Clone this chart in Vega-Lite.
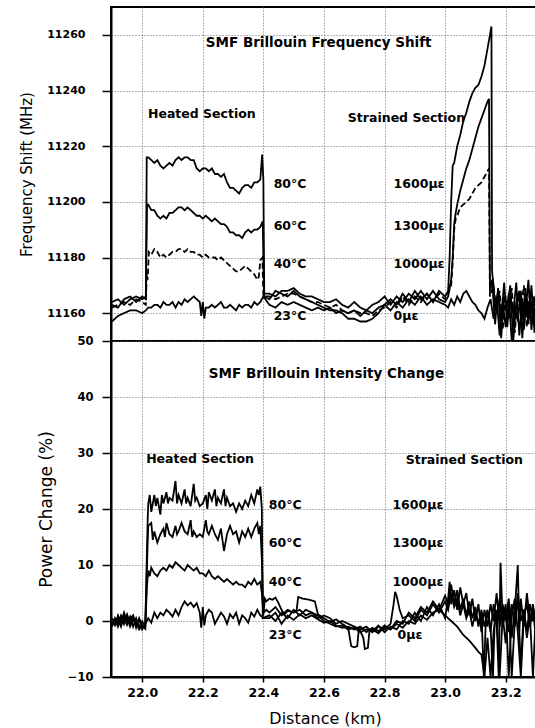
{
"$schema": "https://vega.github.io/schema/vega-lite/v6.json",
"padding": {"left": 18, "top": 6, "right": 0, "bottom": 0},
"spacing": 0,
"bounds": "flush",
"config": {
  "view": {"stroke": "black", "strokeWidth": 2},
  "axis": {"domainColor": "black", "domainWidth": 2, "tickColor": "black", "tickWidth": 1.5, "gridColor": "#666666", "gridOpacity": 1, "gridDash": [1, 2], "gridWidth": 1, "labelFont": "DejaVu Sans", "labelFontWeight": "bold", "labelColor": "black", "titleFont": "DejaVu Sans", "titleFontWeight": "normal", "titleColor": "black"}
},
"datasets": {
"ftitle": [{"x": 22.21, "y": 11256.9, "t": "SMF Brillouin Frequency Shift"}],
"ftext": [
{"x": 22.019, "y": 11231.4, "t": "Heated Section"},
{"x": 22.679, "y": 11230, "t": "Strained Section"},
{"x": 22.434, "y": 11206.3, "t": "80°C"},
{"x": 22.434, "y": 11191.2, "t": "60°C"},
{"x": 22.434, "y": 11177.6, "t": "40°C"},
{"x": 22.434, "y": 11158.9, "t": "23°C"},
{"x": 22.83, "y": 11206.3, "t": "1600με"},
{"x": 22.83, "y": 11191.2, "t": "1300με"},
{"x": 22.83, "y": 11177.6, "t": "1000με"},
{"x": 22.83, "y": 11158.9, "t": "0με"}
],
"ptitle": [{"x": 22.22, "y": 44.1, "t": "SMF Brillouin Intensity Change"}],
"ptext": [
{"x": 22.013, "y": 28.85, "t": "Heated Section"},
{"x": 22.87, "y": 28.7, "t": "Strained Section"},
{"x": 22.418, "y": 20.8, "t": "80°C"},
{"x": 22.418, "y": 13.95, "t": "60°C"},
{"x": 22.418, "y": 7.0, "t": "40°C"},
{"x": 22.418, "y": -2.57, "t": "23°C"},
{"x": 22.826, "y": 20.8, "t": "1600με"},
{"x": 22.826, "y": 13.95, "t": "1300με"},
{"x": 22.826, "y": 7.0, "t": "1000με"},
{"x": 22.843, "y": -2.57, "t": "0με"}
],
"freq": [
{"s":"a","x":21.9,"y":11157},{"s":"a","x":21.92,"y":11159},{"s":"a","x":21.94,"y":11160},{"s":"a","x":21.96,"y":11161},{"s":"a","x":21.98,"y":11161},{"s":"a","x":22.0,"y":11160},{"s":"a","x":22.012,"y":11161},
{"s":"a","x":22.02,"y":11162},{"s":"a","x":22.03,"y":11162},{"s":"a","x":22.04,"y":11163},{"s":"a","x":22.05,"y":11163},{"s":"a","x":22.06,"y":11162},{"s":"a","x":22.07,"y":11164},{"s":"a","x":22.08,"y":11163},{"s":"a","x":22.09,"y":11163},{"s":"a","x":22.1,"y":11164},{"s":"a","x":22.11,"y":11162},{"s":"a","x":22.12,"y":11164},{"s":"a","x":22.13,"y":11163},{"s":"a","x":22.14,"y":11165},{"s":"a","x":22.15,"y":11164},{"s":"a","x":22.16,"y":11165},{"s":"a","x":22.17,"y":11166},{"s":"a","x":22.18,"y":11165},{"s":"a","x":22.19,"y":11164},{"s":"a","x":22.195,"y":11159},{"s":"a","x":22.2,"y":11164},{"s":"a","x":22.205,"y":11158},{"s":"a","x":22.21,"y":11162},{"s":"a","x":22.22,"y":11162},{"s":"a","x":22.23,"y":11163},{"s":"a","x":22.24,"y":11162},{"s":"a","x":22.25,"y":11163},{"s":"a","x":22.26,"y":11164},{"s":"a","x":22.27,"y":11162},{"s":"a","x":22.28,"y":11162},{"s":"a","x":22.29,"y":11163},{"s":"a","x":22.3,"y":11162},{"s":"a","x":22.31,"y":11161},{"s":"a","x":22.32,"y":11163},{"s":"a","x":22.33,"y":11162},{"s":"a","x":22.34,"y":11163},{"s":"a","x":22.35,"y":11163},{"s":"a","x":22.36,"y":11162},{"s":"a","x":22.37,"y":11164},{"s":"a","x":22.38,"y":11163},{"s":"a","x":22.39,"y":11164},{"s":"a","x":22.4,"y":11166},
{"s":"a","x":22.42,"y":11163},{"s":"a","x":22.44,"y":11162},{"s":"a","x":22.46,"y":11164},{"s":"a","x":22.48,"y":11163},{"s":"a","x":22.5,"y":11164},{"s":"a","x":22.52,"y":11163},{"s":"a","x":22.54,"y":11162},{"s":"a","x":22.56,"y":11161},{"s":"a","x":22.58,"y":11162},{"s":"a","x":22.6,"y":11161},{"s":"a","x":22.62,"y":11162},{"s":"a","x":22.64,"y":11160},{"s":"a","x":22.66,"y":11161},{"s":"a","x":22.68,"y":11160},{"s":"a","x":22.7,"y":11161},{"s":"a","x":22.72,"y":11159},{"s":"a","x":22.74,"y":11161},{"s":"a","x":22.76,"y":11160},{"s":"a","x":22.78,"y":11162},{"s":"a","x":22.8,"y":11163},{"s":"a","x":22.82,"y":11161},{"s":"a","x":22.84,"y":11164},{"s":"a","x":22.86,"y":11162},{"s":"a","x":22.88,"y":11165},{"s":"a","x":22.9,"y":11163},{"s":"a","x":22.92,"y":11166},{"s":"a","x":22.94,"y":11163},{"s":"a","x":22.96,"y":11165},{"s":"a","x":22.98,"y":11164},
{"s":"a","x":23.0,"y":11163},{"s":"a","x":23.01,"y":11162},{"s":"a","x":23.02,"y":11165},{"s":"a","x":23.03,"y":11163},{"s":"a","x":23.04,"y":11166},{"s":"a","x":23.05,"y":11164},{"s":"a","x":23.06,"y":11167},{"s":"a","x":23.07,"y":11168},{"s":"a","x":23.08,"y":11166},{"s":"a","x":23.09,"y":11164},{"s":"a","x":23.1,"y":11163},{"s":"a","x":23.11,"y":11161},{"s":"a","x":23.12,"y":11160},{"s":"a","x":23.13,"y":11158},{"s":"a","x":23.14,"y":11162},{"s":"a","x":23.15,"y":11165},
{"s":"a","x":23.16,"y":11158},{"s":"a","x":23.17,"y":11166},{"s":"a","x":23.18,"y":11152},{"s":"a","x":23.19,"y":11164},{"s":"a","x":23.2,"y":11155},{"s":"a","x":23.21,"y":11167},{"s":"a","x":23.22,"y":11150},{"s":"a","x":23.23,"y":11163},{"s":"a","x":23.24,"y":11157},{"s":"a","x":23.25,"y":11168},{"s":"a","x":23.26,"y":11154},{"s":"a","x":23.27,"y":11165},{"s":"a","x":23.28,"y":11158},{"s":"a","x":23.29,"y":11166},{"s":"a","x":23.3,"y":11152},{"s":"a","x":23.31,"y":11163},
{"s":"b","x":21.9,"y":11162},{"s":"b","x":21.92,"y":11163},{"s":"b","x":21.94,"y":11164},{"s":"b","x":21.96,"y":11163},{"s":"b","x":21.98,"y":11165},{"s":"b","x":22.0,"y":11164},{"s":"b","x":22.012,"y":11163},
{"s":"b","x":22.015,"y":11174},{"s":"b","x":22.018,"y":11172},{"s":"b","x":22.022,"y":11182},{"s":"b","x":22.03,"y":11181},{"s":"b","x":22.04,"y":11183},{"s":"b","x":22.05,"y":11182},{"s":"b","x":22.06,"y":11180},{"s":"b","x":22.07,"y":11181},{"s":"b","x":22.08,"y":11180},{"s":"b","x":22.09,"y":11181},{"s":"b","x":22.1,"y":11182},{"s":"b","x":22.11,"y":11182},{"s":"b","x":22.12,"y":11183},{"s":"b","x":22.13,"y":11183},{"s":"b","x":22.14,"y":11182},{"s":"b","x":22.15,"y":11183},{"s":"b","x":22.16,"y":11182},{"s":"b","x":22.17,"y":11182},{"s":"b","x":22.18,"y":11181},{"s":"b","x":22.19,"y":11181},{"s":"b","x":22.2,"y":11180},{"s":"b","x":22.21,"y":11181},{"s":"b","x":22.22,"y":11180},{"s":"b","x":22.23,"y":11180},{"s":"b","x":22.24,"y":11180},{"s":"b","x":22.25,"y":11179},{"s":"b","x":22.26,"y":11180},{"s":"b","x":22.27,"y":11179},{"s":"b","x":22.28,"y":11178},{"s":"b","x":22.29,"y":11177},{"s":"b","x":22.3,"y":11176},{"s":"b","x":22.31,"y":11175},{"s":"b","x":22.32,"y":11175},{"s":"b","x":22.33,"y":11176},{"s":"b","x":22.34,"y":11177},{"s":"b","x":22.35,"y":11176},{"s":"b","x":22.36,"y":11175},{"s":"b","x":22.37,"y":11174},{"s":"b","x":22.38,"y":11172},{"s":"b","x":22.385,"y":11173},{"s":"b","x":22.39,"y":11179},{"s":"b","x":22.397,"y":11180},{"s":"b","x":22.4,"y":11166},
{"s":"b","x":22.42,"y":11166},{"s":"b","x":22.44,"y":11165},{"s":"b","x":22.46,"y":11166},{"s":"b","x":22.48,"y":11167},{"s":"b","x":22.5,"y":11167},{"s":"b","x":22.52,"y":11166},{"s":"b","x":22.54,"y":11165},{"s":"b","x":22.56,"y":11164},{"s":"b","x":22.58,"y":11164},{"s":"b","x":22.6,"y":11163},{"s":"b","x":22.62,"y":11162},{"s":"b","x":22.64,"y":11163},{"s":"b","x":22.66,"y":11161},{"s":"b","x":22.68,"y":11160},{"s":"b","x":22.7,"y":11161},{"s":"b","x":22.72,"y":11160},{"s":"b","x":22.74,"y":11160},{"s":"b","x":22.76,"y":11159},{"s":"b","x":22.78,"y":11161},{"s":"b","x":22.8,"y":11162},{"s":"b","x":22.82,"y":11164},{"s":"b","x":22.84,"y":11162},{"s":"b","x":22.86,"y":11166},{"s":"b","x":22.88,"y":11163},{"s":"b","x":22.9,"y":11166},{"s":"b","x":22.92,"y":11164},{"s":"b","x":22.94,"y":11167},{"s":"b","x":22.96,"y":11164},{"s":"b","x":22.98,"y":11167},
{"s":"b","x":23.0,"y":11165},{"s":"b","x":23.01,"y":11167},{"s":"b","x":23.02,"y":11170},{"s":"b","x":23.025,"y":11178},{"s":"b","x":23.03,"y":11190},{"s":"b","x":23.035,"y":11194},{"s":"b","x":23.04,"y":11195},{"s":"b","x":23.05,"y":11198},{"s":"b","x":23.06,"y":11199},{"s":"b","x":23.07,"y":11200},{"s":"b","x":23.08,"y":11201},{"s":"b","x":23.09,"y":11203},{"s":"b","x":23.1,"y":11205},{"s":"b","x":23.11,"y":11206},{"s":"b","x":23.12,"y":11207},{"s":"b","x":23.13,"y":11209},{"s":"b","x":23.14,"y":11211},{"s":"b","x":23.145,"y":11212},{"s":"b","x":23.148,"y":11166},
{"s":"b","x":23.16,"y":11170},{"s":"b","x":23.17,"y":11160},{"s":"b","x":23.18,"y":11168},{"s":"b","x":23.19,"y":11154},{"s":"b","x":23.2,"y":11166},{"s":"b","x":23.21,"y":11158},{"s":"b","x":23.22,"y":11169},{"s":"b","x":23.23,"y":11153},{"s":"b","x":23.24,"y":11167},{"s":"b","x":23.25,"y":11160},{"s":"b","x":23.26,"y":11170},{"s":"b","x":23.27,"y":11155},{"s":"b","x":23.28,"y":11168},{"s":"b","x":23.29,"y":11157},{"s":"b","x":23.3,"y":11167},{"s":"b","x":23.31,"y":11160},
{"s":"c","x":21.9,"y":11163},{"s":"c","x":21.92,"y":11162},{"s":"c","x":21.94,"y":11165},{"s":"c","x":21.96,"y":11166},{"s":"c","x":21.98,"y":11164},{"s":"c","x":22.0,"y":11166},{"s":"c","x":22.012,"y":11165},
{"s":"c","x":22.016,"y":11199},{"s":"c","x":22.02,"y":11199},{"s":"c","x":22.03,"y":11197},{"s":"c","x":22.04,"y":11197},{"s":"c","x":22.05,"y":11195},{"s":"c","x":22.06,"y":11194},{"s":"c","x":22.07,"y":11195},{"s":"c","x":22.08,"y":11194},{"s":"c","x":22.09,"y":11196},{"s":"c","x":22.1,"y":11196},{"s":"c","x":22.11,"y":11197},{"s":"c","x":22.12,"y":11198},{"s":"c","x":22.13,"y":11198},{"s":"c","x":22.14,"y":11197},{"s":"c","x":22.15,"y":11198},{"s":"c","x":22.16,"y":11197},{"s":"c","x":22.17,"y":11196},{"s":"c","x":22.18,"y":11195},{"s":"c","x":22.19,"y":11195},{"s":"c","x":22.2,"y":11194},{"s":"c","x":22.21,"y":11195},{"s":"c","x":22.22,"y":11194},{"s":"c","x":22.23,"y":11193},{"s":"c","x":22.24,"y":11194},{"s":"c","x":22.25,"y":11193},{"s":"c","x":22.26,"y":11192},{"s":"c","x":22.27,"y":11192},{"s":"c","x":22.28,"y":11191},{"s":"c","x":22.29,"y":11189},{"s":"c","x":22.3,"y":11189},{"s":"c","x":22.31,"y":11188},{"s":"c","x":22.32,"y":11188},{"s":"c","x":22.33,"y":11187},{"s":"c","x":22.34,"y":11189},{"s":"c","x":22.35,"y":11190},{"s":"c","x":22.36,"y":11189},{"s":"c","x":22.37,"y":11190},{"s":"c","x":22.38,"y":11190},{"s":"c","x":22.39,"y":11191},{"s":"c","x":22.398,"y":11193},{"s":"c","x":22.402,"y":11167},
{"s":"c","x":22.42,"y":11167},{"s":"c","x":22.44,"y":11166},{"s":"c","x":22.46,"y":11168},{"s":"c","x":22.48,"y":11168},{"s":"c","x":22.5,"y":11169},{"s":"c","x":22.52,"y":11167},{"s":"c","x":22.54,"y":11166},{"s":"c","x":22.56,"y":11166},{"s":"c","x":22.58,"y":11165},{"s":"c","x":22.6,"y":11164},{"s":"c","x":22.62,"y":11164},{"s":"c","x":22.64,"y":11165},{"s":"c","x":22.66,"y":11163},{"s":"c","x":22.68,"y":11162},{"s":"c","x":22.7,"y":11164},{"s":"c","x":22.72,"y":11162},{"s":"c","x":22.74,"y":11161},{"s":"c","x":22.76,"y":11163},{"s":"c","x":22.78,"y":11164},{"s":"c","x":22.8,"y":11166},{"s":"c","x":22.82,"y":11163},{"s":"c","x":22.84,"y":11166},{"s":"c","x":22.86,"y":11164},{"s":"c","x":22.88,"y":11167},{"s":"c","x":22.9,"y":11165},{"s":"c","x":22.92,"y":11168},{"s":"c","x":22.94,"y":11165},{"s":"c","x":22.96,"y":11168},{"s":"c","x":22.98,"y":11165},
{"s":"c","x":23.0,"y":11164},{"s":"c","x":23.01,"y":11166},{"s":"c","x":23.02,"y":11172},{"s":"c","x":23.025,"y":11180},{"s":"c","x":23.03,"y":11192},{"s":"c","x":23.035,"y":11196},{"s":"c","x":23.04,"y":11199},{"s":"c","x":23.05,"y":11204},{"s":"c","x":23.06,"y":11208},{"s":"c","x":23.07,"y":11212},{"s":"c","x":23.08,"y":11215},{"s":"c","x":23.09,"y":11219},{"s":"c","x":23.1,"y":11223},{"s":"c","x":23.11,"y":11227},{"s":"c","x":23.12,"y":11230},{"s":"c","x":23.13,"y":11233},{"s":"c","x":23.14,"y":11236},{"s":"c","x":23.145,"y":11237},{"s":"c","x":23.148,"y":11168},
{"s":"c","x":23.155,"y":11172},{"s":"c","x":23.165,"y":11156},{"s":"c","x":23.175,"y":11169},{"s":"c","x":23.185,"y":11158},{"s":"c","x":23.195,"y":11171},{"s":"c","x":23.205,"y":11155},{"s":"c","x":23.215,"y":11166},{"s":"c","x":23.225,"y":11160},{"s":"c","x":23.235,"y":11171},{"s":"c","x":23.245,"y":11152},{"s":"c","x":23.255,"y":11165},{"s":"c","x":23.265,"y":11159},{"s":"c","x":23.275,"y":11172},{"s":"c","x":23.285,"y":11154},{"s":"c","x":23.295,"y":11166},{"s":"c","x":23.305,"y":11158},
{"s":"d","x":21.9,"y":11164},{"s":"d","x":21.92,"y":11165},{"s":"d","x":21.94,"y":11163},{"s":"d","x":21.96,"y":11165},{"s":"d","x":21.98,"y":11166},{"s":"d","x":22.0,"y":11165},{"s":"d","x":22.012,"y":11166},
{"s":"d","x":22.015,"y":11216},{"s":"d","x":22.02,"y":11216},{"s":"d","x":22.03,"y":11215},{"s":"d","x":22.04,"y":11214},{"s":"d","x":22.05,"y":11215},{"s":"d","x":22.06,"y":11213},{"s":"d","x":22.07,"y":11212},{"s":"d","x":22.08,"y":11213},{"s":"d","x":22.09,"y":11214},{"s":"d","x":22.1,"y":11213},{"s":"d","x":22.11,"y":11215},{"s":"d","x":22.12,"y":11216},{"s":"d","x":22.13,"y":11215},{"s":"d","x":22.14,"y":11216},{"s":"d","x":22.15,"y":11216},{"s":"d","x":22.16,"y":11215},{"s":"d","x":22.17,"y":11215},{"s":"d","x":22.18,"y":11212},{"s":"d","x":22.19,"y":11211},{"s":"d","x":22.2,"y":11212},{"s":"d","x":22.21,"y":11212},{"s":"d","x":22.22,"y":11211},{"s":"d","x":22.23,"y":11212},{"s":"d","x":22.24,"y":11210},{"s":"d","x":22.25,"y":11210},{"s":"d","x":22.26,"y":11209},{"s":"d","x":22.27,"y":11210},{"s":"d","x":22.28,"y":11207},{"s":"d","x":22.29,"y":11205},{"s":"d","x":22.3,"y":11205},{"s":"d","x":22.31,"y":11204},{"s":"d","x":22.32,"y":11203},{"s":"d","x":22.33,"y":11205},{"s":"d","x":22.34,"y":11206},{"s":"d","x":22.35,"y":11206},{"s":"d","x":22.36,"y":11205},{"s":"d","x":22.37,"y":11207},{"s":"d","x":22.38,"y":11207},{"s":"d","x":22.39,"y":11208},{"s":"d","x":22.396,"y":11217},{"s":"d","x":22.4,"y":11208},{"s":"d","x":22.403,"y":11166},
{"s":"d","x":22.42,"y":11165},{"s":"d","x":22.44,"y":11168},{"s":"d","x":22.46,"y":11167},{"s":"d","x":22.48,"y":11166},{"s":"d","x":22.5,"y":11168},{"s":"d","x":22.52,"y":11166},{"s":"d","x":22.54,"y":11165},{"s":"d","x":22.56,"y":11164},{"s":"d","x":22.58,"y":11163},{"s":"d","x":22.6,"y":11162},{"s":"d","x":22.62,"y":11161},{"s":"d","x":22.64,"y":11161},{"s":"d","x":22.66,"y":11160},{"s":"d","x":22.68,"y":11158},{"s":"d","x":22.7,"y":11158},{"s":"d","x":22.72,"y":11157},{"s":"d","x":22.74,"y":11157},{"s":"d","x":22.76,"y":11158},{"s":"d","x":22.78,"y":11160},{"s":"d","x":22.8,"y":11163},{"s":"d","x":22.82,"y":11165},{"s":"d","x":22.84,"y":11163},{"s":"d","x":22.86,"y":11167},{"s":"d","x":22.88,"y":11164},{"s":"d","x":22.9,"y":11168},{"s":"d","x":22.92,"y":11165},{"s":"d","x":22.94,"y":11167},{"s":"d","x":22.96,"y":11164},{"s":"d","x":22.98,"y":11168},
{"s":"d","x":23.0,"y":11166},{"s":"d","x":23.01,"y":11168},{"s":"d","x":23.015,"y":11180},{"s":"d","x":23.02,"y":11200},{"s":"d","x":23.025,"y":11213},{"s":"d","x":23.03,"y":11214},{"s":"d","x":23.04,"y":11220},{"s":"d","x":23.05,"y":11224},{"s":"d","x":23.06,"y":11229},{"s":"d","x":23.07,"y":11232},{"s":"d","x":23.08,"y":11236},{"s":"d","x":23.09,"y":11239},{"s":"d","x":23.1,"y":11241},{"s":"d","x":23.11,"y":11242},{"s":"d","x":23.12,"y":11245},{"s":"d","x":23.13,"y":11249},{"s":"d","x":23.14,"y":11255},{"s":"d","x":23.153,"y":11263},{"s":"d","x":23.155,"y":11175},
{"s":"d","x":23.16,"y":11170},{"s":"d","x":23.165,"y":11162},{"s":"d","x":23.175,"y":11168},{"s":"d","x":23.185,"y":11151},{"s":"d","x":23.195,"y":11166},{"s":"d","x":23.205,"y":11162},{"s":"d","x":23.215,"y":11170},{"s":"d","x":23.225,"y":11150},{"s":"d","x":23.235,"y":11164},{"s":"d","x":23.245,"y":11168},{"s":"d","x":23.255,"y":11151},{"s":"d","x":23.265,"y":11169},{"s":"d","x":23.275,"y":11156},{"s":"d","x":23.285,"y":11170},{"s":"d","x":23.295,"y":11153},{"s":"d","x":23.305,"y":11167}
],
"pow": [
{"s":"a","x":21.9,"y":-1},{"s":"a","x":21.91,"y":0.5},{"s":"a","x":21.92,"y":-0.5},{"s":"a","x":21.93,"y":1},{"s":"a","x":21.94,"y":0},{"s":"a","x":21.95,"y":1.2},{"s":"a","x":21.96,"y":-0.5},{"s":"a","x":21.97,"y":0.8},{"s":"a","x":21.98,"y":-0.8},{"s":"a","x":21.99,"y":0.3},{"s":"a","x":22.0,"y":-1.5},{"s":"a","x":22.01,"y":-0.5},
{"s":"a","x":22.02,"y":0.5},{"s":"a","x":22.03,"y":-0.3},{"s":"a","x":22.04,"y":1.5},{"s":"a","x":22.05,"y":0.5},{"s":"a","x":22.06,"y":1.5},{"s":"a","x":22.07,"y":1},{"s":"a","x":22.08,"y":2},{"s":"a","x":22.09,"y":1.5},{"s":"a","x":22.1,"y":0.8},{"s":"a","x":22.11,"y":2},{"s":"a","x":22.12,"y":1},{"s":"a","x":22.13,"y":2.5},{"s":"a","x":22.14,"y":3.5},{"s":"a","x":22.15,"y":2.8},{"s":"a","x":22.16,"y":3.3},{"s":"a","x":22.17,"y":2.5},{"s":"a","x":22.18,"y":3.2},{"s":"a","x":22.19,"y":1.5},{"s":"a","x":22.195,"y":-1.2},{"s":"a","x":22.2,"y":2.5},{"s":"a","x":22.205,"y":-0.8},{"s":"a","x":22.21,"y":1},{"s":"a","x":22.22,"y":2},{"s":"a","x":22.23,"y":1.5},{"s":"a","x":22.24,"y":-0.5},{"s":"a","x":22.25,"y":0.5},{"s":"a","x":22.26,"y":1.5},{"s":"a","x":22.27,"y":0.8},{"s":"a","x":22.28,"y":-0.5},{"s":"a","x":22.29,"y":1.2},{"s":"a","x":22.3,"y":0.5},{"s":"a","x":22.31,"y":1.5},{"s":"a","x":22.32,"y":-0.5},{"s":"a","x":22.33,"y":1},{"s":"a","x":22.34,"y":0.5},{"s":"a","x":22.35,"y":-0.3},{"s":"a","x":22.36,"y":1.5},{"s":"a","x":22.37,"y":0.8},{"s":"a","x":22.38,"y":2},{"s":"a","x":22.39,"y":1},{"s":"a","x":22.4,"y":0.5},
{"s":"a","x":22.42,"y":0.5},{"s":"a","x":22.44,"y":1.5},{"s":"a","x":22.46,"y":-0.5},{"s":"a","x":22.48,"y":1},{"s":"a","x":22.5,"y":0.2},{"s":"a","x":22.52,"y":1.2},{"s":"a","x":22.54,"y":0.5},{"s":"a","x":22.56,"y":1},{"s":"a","x":22.58,"y":0.3},{"s":"a","x":22.6,"y":-0.3},{"s":"a","x":22.62,"y":0},{"s":"a","x":22.64,"y":-0.8},{"s":"a","x":22.66,"y":-1.2},{"s":"a","x":22.68,"y":-1},{"s":"a","x":22.7,"y":-1.5},{"s":"a","x":22.72,"y":-1},{"s":"a","x":22.74,"y":-2},{"s":"a","x":22.76,"y":-1.2},{"s":"a","x":22.78,"y":-1.8},{"s":"a","x":22.8,"y":-0.8},{"s":"a","x":22.82,"y":-1.5},{"s":"a","x":22.84,"y":-0.5},{"s":"a","x":22.86,"y":-1.2},{"s":"a","x":22.88,"y":0},{"s":"a","x":22.9,"y":-0.5},{"s":"a","x":22.92,"y":1},{"s":"a","x":22.94,"y":0.2},{"s":"a","x":22.96,"y":1.5},{"s":"a","x":22.98,"y":2},{"s":"a","x":23.0,"y":1},{"s":"a","x":23.02,"y":0},{"s":"a","x":23.04,"y":-1},{"s":"a","x":23.06,"y":-2.5},{"s":"a","x":23.08,"y":-3.5},{"s":"a","x":23.1,"y":-4.8},{"s":"a","x":23.11,"y":-5.5},{"s":"a","x":23.12,"y":-6},{"s":"a","x":23.13,"y":-10},{"s":"a","x":23.14,"y":-3},{"s":"a","x":23.15,"y":-10},{"s":"a","x":23.16,"y":-2},{"s":"a","x":23.17,"y":2},{"s":"a","x":23.18,"y":-10},{"s":"a","x":23.19,"y":1},{"s":"a","x":23.2,"y":-4},{"s":"a","x":23.21,"y":3},{"s":"a","x":23.22,"y":-10},{"s":"a","x":23.23,"y":0},{"s":"a","x":23.24,"y":4},{"s":"a","x":23.25,"y":-8},{"s":"a","x":23.26,"y":2},{"s":"a","x":23.27,"y":-3},{"s":"a","x":23.28,"y":1},{"s":"a","x":23.29,"y":-10},{"s":"a","x":23.3,"y":2},{"s":"a","x":23.31,"y":-1},
{"s":"b","x":21.9,"y":0},{"s":"b","x":21.91,"y":-0.8},{"s":"b","x":21.92,"y":1},{"s":"b","x":21.93,"y":-0.3},{"s":"b","x":21.94,"y":1.5},{"s":"b","x":21.95,"y":-0.2},{"s":"b","x":21.96,"y":0.8},{"s":"b","x":21.97,"y":-1},{"s":"b","x":21.98,"y":0.5},{"s":"b","x":21.99,"y":-1.2},{"s":"b","x":22.0,"y":0},{"s":"b","x":22.01,"y":-1},
{"s":"b","x":22.016,"y":6.5},{"s":"b","x":22.02,"y":9},{"s":"b","x":22.025,"y":8},{"s":"b","x":22.03,"y":9.5},{"s":"b","x":22.04,"y":8.5},{"s":"b","x":22.05,"y":8},{"s":"b","x":22.06,"y":9},{"s":"b","x":22.07,"y":9.5},{"s":"b","x":22.08,"y":9},{"s":"b","x":22.09,"y":10},{"s":"b","x":22.1,"y":9.5},{"s":"b","x":22.11,"y":10.5},{"s":"b","x":22.12,"y":10},{"s":"b","x":22.13,"y":9.5},{"s":"b","x":22.14,"y":9},{"s":"b","x":22.15,"y":10},{"s":"b","x":22.16,"y":9.5},{"s":"b","x":22.17,"y":9},{"s":"b","x":22.18,"y":9.5},{"s":"b","x":22.19,"y":8.5},{"s":"b","x":22.2,"y":8.5},{"s":"b","x":22.21,"y":8},{"s":"b","x":22.22,"y":9},{"s":"b","x":22.23,"y":8},{"s":"b","x":22.24,"y":7.5},{"s":"b","x":22.25,"y":8},{"s":"b","x":22.26,"y":7.5},{"s":"b","x":22.27,"y":7},{"s":"b","x":22.28,"y":7.5},{"s":"b","x":22.29,"y":7},{"s":"b","x":22.3,"y":6.5},{"s":"b","x":22.31,"y":7},{"s":"b","x":22.32,"y":6.5},{"s":"b","x":22.33,"y":6.5},{"s":"b","x":22.34,"y":6},{"s":"b","x":22.35,"y":7},{"s":"b","x":22.36,"y":6.5},{"s":"b","x":22.37,"y":7.5},{"s":"b","x":22.38,"y":6.5},{"s":"b","x":22.39,"y":7},{"s":"b","x":22.395,"y":5},{"s":"b","x":22.4,"y":1.5},
{"s":"b","x":22.41,"y":2},{"s":"b","x":22.42,"y":1.5},{"s":"b","x":22.44,"y":2.5},{"s":"b","x":22.46,"y":1},{"s":"b","x":22.48,"y":2},{"s":"b","x":22.5,"y":1.5},{"s":"b","x":22.52,"y":2},{"s":"b","x":22.54,"y":1},{"s":"b","x":22.56,"y":1.5},{"s":"b","x":22.58,"y":0.5},{"s":"b","x":22.6,"y":1},{"s":"b","x":22.62,"y":0.5},{"s":"b","x":22.64,"y":-0.5},{"s":"b","x":22.66,"y":0},{"s":"b","x":22.68,"y":-0.5},{"s":"b","x":22.7,"y":-1},{"s":"b","x":22.72,"y":-1.5},{"s":"b","x":22.74,"y":-1},{"s":"b","x":22.76,"y":-2},{"s":"b","x":22.78,"y":-1},{"s":"b","x":22.8,"y":-1.5},{"s":"b","x":22.82,"y":-0.5},{"s":"b","x":22.83,"y":3},{"s":"b","x":22.835,"y":5.2},{"s":"b","x":22.84,"y":4.5},{"s":"b","x":22.85,"y":2},{"s":"b","x":22.86,"y":0.5},{"s":"b","x":22.88,"y":1},{"s":"b","x":22.9,"y":0},{"s":"b","x":22.92,"y":2},{"s":"b","x":22.94,"y":1},{"s":"b","x":22.96,"y":3},{"s":"b","x":22.98,"y":1.5},{"s":"b","x":23.0,"y":3.5},{"s":"b","x":23.01,"y":2},{"s":"b","x":23.02,"y":5},{"s":"b","x":23.03,"y":2.5},{"s":"b","x":23.04,"y":4},{"s":"b","x":23.05,"y":1},{"s":"b","x":23.06,"y":3},{"s":"b","x":23.07,"y":0.5},{"s":"b","x":23.08,"y":2},{"s":"b","x":23.09,"y":-1},{"s":"b","x":23.1,"y":1.5},{"s":"b","x":23.11,"y":-0.5},{"s":"b","x":23.12,"y":2},{"s":"b","x":23.13,"y":-1},{"s":"b","x":23.14,"y":1.5},{"s":"b","x":23.15,"y":-2},{"s":"b","x":23.16,"y":3},{"s":"b","x":23.17,"y":0},{"s":"b","x":23.18,"y":4},{"s":"b","x":23.19,"y":-1},{"s":"b","x":23.2,"y":2},{"s":"b","x":23.21,"y":-2},{"s":"b","x":23.22,"y":3},{"s":"b","x":23.23,"y":-1},{"s":"b","x":23.24,"y":5},{"s":"b","x":23.25,"y":0},{"s":"b","x":23.26,"y":2},{"s":"b","x":23.27,"y":-2},{"s":"b","x":23.28,"y":3},{"s":"b","x":23.29,"y":0},{"s":"b","x":23.3,"y":2.5},{"s":"b","x":23.31,"y":-0.5},
{"s":"c","x":21.9,"y":-0.5},{"s":"c","x":21.91,"y":0.3},{"s":"c","x":21.92,"y":-1},{"s":"c","x":21.93,"y":0.6},{"s":"c","x":21.94,"y":-0.6},{"s":"c","x":21.95,"y":0.7},{"s":"c","x":21.96,"y":-1},{"s":"c","x":21.97,"y":0.2},{"s":"c","x":21.98,"y":-0.3},{"s":"c","x":21.99,"y":-1.5},{"s":"c","x":22.0,"y":-0.8},{"s":"c","x":22.01,"y":-1.4},
{"s":"c","x":22.018,"y":14},{"s":"c","x":22.02,"y":17},{"s":"c","x":22.03,"y":17.5},{"s":"c","x":22.035,"y":14.5},{"s":"c","x":22.04,"y":16},{"s":"c","x":22.05,"y":14},{"s":"c","x":22.06,"y":15.5},{"s":"c","x":22.07,"y":16.5},{"s":"c","x":22.075,"y":15},{"s":"c","x":22.08,"y":17.5},{"s":"c","x":22.09,"y":15.5},{"s":"c","x":22.1,"y":15},{"s":"c","x":22.11,"y":17},{"s":"c","x":22.115,"y":15.5},{"s":"c","x":22.12,"y":16},{"s":"c","x":22.13,"y":17.5},{"s":"c","x":22.14,"y":16},{"s":"c","x":22.15,"y":15.5},{"s":"c","x":22.16,"y":18},{"s":"c","x":22.165,"y":15},{"s":"c","x":22.17,"y":16},{"s":"c","x":22.18,"y":15},{"s":"c","x":22.19,"y":15.5},{"s":"c","x":22.2,"y":15},{"s":"c","x":22.21,"y":18},{"s":"c","x":22.215,"y":16},{"s":"c","x":22.22,"y":15.5},{"s":"c","x":22.23,"y":17},{"s":"c","x":22.24,"y":15.5},{"s":"c","x":22.25,"y":14.5},{"s":"c","x":22.26,"y":16.5},{"s":"c","x":22.27,"y":12.5},{"s":"c","x":22.275,"y":14},{"s":"c","x":22.28,"y":15.5},{"s":"c","x":22.29,"y":17},{"s":"c","x":22.3,"y":15.5},{"s":"c","x":22.31,"y":16},{"s":"c","x":22.32,"y":14},{"s":"c","x":22.33,"y":16},{"s":"c","x":22.34,"y":15},{"s":"c","x":22.35,"y":16.5},{"s":"c","x":22.36,"y":15},{"s":"c","x":22.37,"y":16.5},{"s":"c","x":22.38,"y":17.5},{"s":"c","x":22.385,"y":15.5},{"s":"c","x":22.39,"y":17},{"s":"c","x":22.395,"y":11},{"s":"c","x":22.4,"y":1},
{"s":"c","x":22.405,"y":4},{"s":"c","x":22.41,"y":3.5},{"s":"c","x":22.42,"y":4},{"s":"c","x":22.43,"y":3.8},{"s":"c","x":22.44,"y":4.2},{"s":"c","x":22.45,"y":3.2},{"s":"c","x":22.46,"y":2},{"s":"c","x":22.47,"y":1.2},{"s":"c","x":22.48,"y":1.8},{"s":"c","x":22.5,"y":1.5},{"s":"c","x":22.51,"y":2},{"s":"c","x":22.515,"y":4.3},{"s":"c","x":22.53,"y":4},{"s":"c","x":22.55,"y":3.8},{"s":"c","x":22.57,"y":3.5},{"s":"c","x":22.58,"y":1.2},{"s":"c","x":22.6,"y":0.5},{"s":"c","x":22.62,"y":-0.2},{"s":"c","x":22.64,"y":0.3},{"s":"c","x":22.66,"y":-0.5},{"s":"c","x":22.68,"y":-1.2},{"s":"c","x":22.69,"y":-4.5},{"s":"c","x":22.7,"y":-4.7},{"s":"c","x":22.71,"y":-4.5},{"s":"c","x":22.715,"y":-1.5},{"s":"c","x":22.72,"y":-1.8},{"s":"c","x":22.73,"y":-3},{"s":"c","x":22.735,"y":-5},{"s":"c","x":22.745,"y":-4.8},{"s":"c","x":22.75,"y":-2},{"s":"c","x":22.76,"y":-1.5},{"s":"c","x":22.78,"y":-2.2},{"s":"c","x":22.8,"y":-1},{"s":"c","x":22.82,"y":-1.5},{"s":"c","x":22.84,"y":0},{"s":"c","x":22.86,"y":-0.5},{"s":"c","x":22.88,"y":1.5},{"s":"c","x":22.9,"y":0.5},{"s":"c","x":22.92,"y":2.5},{"s":"c","x":22.94,"y":1.5},{"s":"c","x":22.96,"y":3.5},{"s":"c","x":22.98,"y":2},{"s":"c","x":23.0,"y":4.5},{"s":"c","x":23.01,"y":3},{"s":"c","x":23.02,"y":6.5},{"s":"c","x":23.03,"y":3},{"s":"c","x":23.04,"y":5.5},{"s":"c","x":23.05,"y":2},{"s":"c","x":23.06,"y":4},{"s":"c","x":23.07,"y":1},{"s":"c","x":23.08,"y":3.5},{"s":"c","x":23.09,"y":0.5},{"s":"c","x":23.1,"y":2.5},{"s":"c","x":23.11,"y":-1},{"s":"c","x":23.12,"y":1.5},{"s":"c","x":23.128,"y":-10},{"s":"c","x":23.135,"y":1},{"s":"c","x":23.14,"y":2},{"s":"c","x":23.15,"y":-1},{"s":"c","x":23.158,"y":-10},{"s":"c","x":23.165,"y":2},{"s":"c","x":23.17,"y":0},{"s":"c","x":23.177,"y":-10},{"s":"c","x":23.183,"y":10.4},{"s":"c","x":23.19,"y":0},{"s":"c","x":23.2,"y":3},{"s":"c","x":23.21,"y":-10},{"s":"c","x":23.22,"y":1},{"s":"c","x":23.23,"y":4},{"s":"c","x":23.24,"y":-2},{"s":"c","x":23.25,"y":-10},{"s":"c","x":23.26,"y":1},{"s":"c","x":23.27,"y":3},{"s":"c","x":23.28,"y":-1},{"s":"c","x":23.29,"y":2},{"s":"c","x":23.3,"y":-3},{"s":"c","x":23.31,"y":1},
{"s":"d","x":21.9,"y":0.5},{"s":"d","x":21.91,"y":-0.2},{"s":"d","x":21.92,"y":0.4},{"s":"d","x":21.93,"y":-1},{"s":"d","x":21.94,"y":0.9},{"s":"d","x":21.95,"y":-0.7},{"s":"d","x":21.96,"y":0.3},{"s":"d","x":21.97,"y":1},{"s":"d","x":21.98,"y":-1.2},{"s":"d","x":21.99,"y":0.5},{"s":"d","x":22.0,"y":-1},{"s":"d","x":22.01,"y":-1.2},
{"s":"d","x":22.018,"y":18},{"s":"d","x":22.02,"y":21},{"s":"d","x":22.025,"y":22.5},{"s":"d","x":22.03,"y":19.5},{"s":"d","x":22.04,"y":22.5},{"s":"d","x":22.045,"y":20.5},{"s":"d","x":22.05,"y":22},{"s":"d","x":22.06,"y":19},{"s":"d","x":22.065,"y":22.5},{"s":"d","x":22.07,"y":21},{"s":"d","x":22.08,"y":23},{"s":"d","x":22.085,"y":21},{"s":"d","x":22.09,"y":22},{"s":"d","x":22.1,"y":21.5},{"s":"d","x":22.11,"y":25},{"s":"d","x":22.115,"y":21},{"s":"d","x":22.12,"y":22.5},{"s":"d","x":22.13,"y":21},{"s":"d","x":22.14,"y":23.5},{"s":"d","x":22.145,"y":21},{"s":"d","x":22.15,"y":22},{"s":"d","x":22.16,"y":20.5},{"s":"d","x":22.17,"y":24.5},{"s":"d","x":22.175,"y":21.5},{"s":"d","x":22.18,"y":22},{"s":"d","x":22.19,"y":20.5},{"s":"d","x":22.2,"y":21},{"s":"d","x":22.21,"y":22.5},{"s":"d","x":22.215,"y":20},{"s":"d","x":22.22,"y":23},{"s":"d","x":22.23,"y":21.5},{"s":"d","x":22.24,"y":23.5},{"s":"d","x":22.245,"y":20.5},{"s":"d","x":22.25,"y":22},{"s":"d","x":22.26,"y":21},{"s":"d","x":22.27,"y":23.5},{"s":"d","x":22.275,"y":20.5},{"s":"d","x":22.28,"y":22},{"s":"d","x":22.29,"y":20.5},{"s":"d","x":22.3,"y":21},{"s":"d","x":22.31,"y":19.5},{"s":"d","x":22.32,"y":21},{"s":"d","x":22.33,"y":20},{"s":"d","x":22.34,"y":21.5},{"s":"d","x":22.35,"y":20.5},{"s":"d","x":22.36,"y":22.5},{"s":"d","x":22.37,"y":21},{"s":"d","x":22.38,"y":23.5},{"s":"d","x":22.385,"y":22.5},{"s":"d","x":22.39,"y":24},{"s":"d","x":22.395,"y":20},{"s":"d","x":22.398,"y":0.5},
{"s":"d","x":22.42,"y":1},{"s":"d","x":22.44,"y":0},{"s":"d","x":22.46,"y":1.5},{"s":"d","x":22.48,"y":0.5},{"s":"d","x":22.5,"y":2},{"s":"d","x":22.52,"y":1},{"s":"d","x":22.54,"y":2},{"s":"d","x":22.56,"y":1.5},{"s":"d","x":22.58,"y":1},{"s":"d","x":22.6,"y":0},{"s":"d","x":22.62,"y":-0.5},{"s":"d","x":22.64,"y":-1},{"s":"d","x":22.66,"y":-0.8},{"s":"d","x":22.68,"y":-1.5},{"s":"d","x":22.7,"y":-1.2},{"s":"d","x":22.72,"y":-2},{"s":"d","x":22.74,"y":-1.5},{"s":"d","x":22.76,"y":-1.8},{"s":"d","x":22.78,"y":-0.8},{"s":"d","x":22.8,"y":-2},{"s":"d","x":22.82,"y":-1},{"s":"d","x":22.84,"y":-1.5},{"s":"d","x":22.86,"y":0},{"s":"d","x":22.88,"y":-0.5},{"s":"d","x":22.9,"y":1.5},{"s":"d","x":22.92,"y":0},{"s":"d","x":22.94,"y":2.5},{"s":"d","x":22.96,"y":1},{"s":"d","x":22.98,"y":3},{"s":"d","x":23.0,"y":0.5},{"s":"d","x":23.01,"y":4},{"s":"d","x":23.015,"y":7},{"s":"d","x":23.02,"y":3},{"s":"d","x":23.03,"y":5.5},{"s":"d","x":23.04,"y":2},{"s":"d","x":23.05,"y":6},{"s":"d","x":23.06,"y":3},{"s":"d","x":23.07,"y":5},{"s":"d","x":23.08,"y":1},{"s":"d","x":23.09,"y":4},{"s":"d","x":23.1,"y":0},{"s":"d","x":23.11,"y":3},{"s":"d","x":23.12,"y":-2},{"s":"d","x":23.13,"y":2},{"s":"d","x":23.14,"y":-1},{"s":"d","x":23.15,"y":3},{"s":"d","x":23.16,"y":0},{"s":"d","x":23.17,"y":5},{"s":"d","x":23.18,"y":-1},{"s":"d","x":23.19,"y":3},{"s":"d","x":23.2,"y":0},{"s":"d","x":23.21,"y":4},{"s":"d","x":23.22,"y":-3},{"s":"d","x":23.23,"y":2},{"s":"d","x":23.24,"y":10},{"s":"d","x":23.245,"y":-2},{"s":"d","x":23.25,"y":4},{"s":"d","x":23.26,"y":-1},{"s":"d","x":23.27,"y":5},{"s":"d","x":23.28,"y":0},{"s":"d","x":23.29,"y":3},{"s":"d","x":23.3,"y":-2},{"s":"d","x":23.31,"y":1}
]
},
"vconcat": [
{
  "width": 428, "height": 334,
  "layer": [
    {
      "data": {"name": "freq"},
      "mark": {"type": "line", "color": "black", "strokeWidth": 1.8, "clip": true},
      "encoding": {
        "x": {"field": "x", "type": "quantitative", "scale": {"domain": [21.897, 23.31], "nice": false, "zero": false},
              "axis": {"values": [22.0, 22.2, 22.4, 22.6, 22.8, 23.0, 23.2], "labels": false, "ticks": false, "domain": false, "title": null, "grid": true}},
        "y": {"field": "y", "type": "quantitative", "scale": {"domain": [11150, 11270], "nice": false, "zero": false},
              "axis": {"values": [11160, 11180, 11200, 11220, 11240, 11260], "format": "d", "title": "Frequency Shift (MHz)", "tickSize": 9, "labelPadding": 17, "labelFontSize": 11, "titleFontSize": 15, "titlePadding": 13, "minExtent": 64, "maxExtent": 64, "grid": true}},
        "detail": {"field": "s", "type": "nominal"},
        "strokeDash": {"field": "s", "type": "nominal", "scale": {"domain": ["a", "b", "c", "d"], "range": [[1, 0], [6, 3], [1, 0], [1, 0]]}, "legend": null}
      }
    },
    {
      "data": {"name": "ftext"},
      "mark": {"type": "text", "align": "left", "baseline": "middle", "font": "DejaVu Sans", "fontWeight": "bold", "fontSize": 12.5, "color": "black"},
      "encoding": {"x": {"field": "x", "type": "quantitative"}, "y": {"field": "y", "type": "quantitative"}, "text": {"field": "t"}}
    },
    {
      "data": {"name": "ftitle"},
      "mark": {"type": "text", "align": "left", "baseline": "middle", "font": "DejaVu Sans", "fontWeight": "bold", "fontSize": 13.5, "color": "black"},
      "encoding": {"x": {"field": "x", "type": "quantitative"}, "y": {"field": "y", "type": "quantitative"}, "text": {"field": "t"}}
    }
  ]
},
{
  "width": 428, "height": 336,
  "layer": [
    {
      "data": {"name": "pow"},
      "mark": {"type": "line", "color": "black", "strokeWidth": 1.8, "clip": true},
      "encoding": {
        "x": {"field": "x", "type": "quantitative", "scale": {"domain": [21.897, 23.31], "nice": false, "zero": false},
              "axis": {"values": [22.0, 22.2, 22.4, 22.6, 22.8, 23.0, 23.2], "format": ".1f", "title": "Distance (km)", "tickSize": 5, "labelPadding": 4, "labelFontSize": 12.5, "titleFontSize": 16, "titlePadding": 12, "grid": true}},
        "y": {"field": "y", "type": "quantitative", "scale": {"domain": [-10, 50], "nice": false, "zero": false},
              "axis": {"values": [-10, 0, 10, 20, 30, 40, 50], "title": "Power Change (%)", "tickSize": 9, "labelPadding": 9, "labelFontSize": 11.5, "titleFontSize": 17, "titlePadding": 18, "minExtent": 38, "maxExtent": 38, "grid": true}},
        "detail": {"field": "s", "type": "nominal"}
      }
    },
    {
      "data": {"name": "ptext"},
      "mark": {"type": "text", "align": "left", "baseline": "middle", "font": "DejaVu Sans", "fontWeight": "bold", "fontSize": 12.5, "color": "black"},
      "encoding": {"x": {"field": "x", "type": "quantitative"}, "y": {"field": "y", "type": "quantitative"}, "text": {"field": "t"}}
    },
    {
      "data": {"name": "ptitle"},
      "mark": {"type": "text", "align": "left", "baseline": "middle", "font": "DejaVu Sans", "fontWeight": "bold", "fontSize": 13.5, "color": "black"},
      "encoding": {"x": {"field": "x", "type": "quantitative"}, "y": {"field": "y", "type": "quantitative"}, "text": {"field": "t"}}
    }
  ]
}
]
}
